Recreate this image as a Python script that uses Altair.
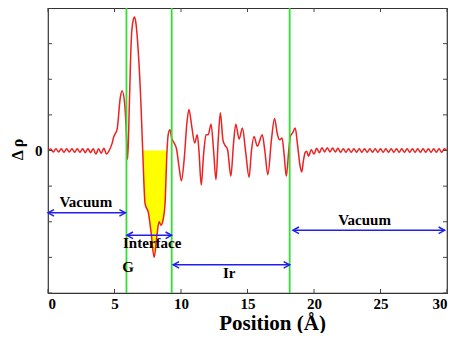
import altair as alt
import pandas as pd

# ---- curve (Position in Å, Δρ) ----
pos = [0.0, 0.2, 0.4, 0.6, 0.8, 1.0, 1.2, 1.4, 1.6, 1.8, 2.0, 2.2, 2.4, 2.6, 2.8, 3.0,
       3.2, 3.4, 3.6, 3.8, 4.0, 4.2, 4.4, 4.6,
       4.82, 4.95, 5.07, 5.2, 5.44, 5.57, 5.77, 5.89, 5.99, 6.11, 6.26, 6.4, 6.51, 6.62,
       6.8, 7.0, 7.12, 7.3, 7.55, 7.75, 7.98, 8.2, 8.35, 8.5, 8.65, 8.8, 8.95, 9.04,
       9.17, 9.3, 9.5, 9.66, 9.85, 10.03, 10.25, 10.45, 10.6, 10.8, 11.03, 11.22, 11.35,
       11.52, 11.7, 11.89, 12.05, 12.26, 12.45, 12.63, 12.8, 12.96, 13.15, 13.3, 13.5,
       13.75, 13.95, 14.12, 14.37, 14.62, 14.85, 15.12, 15.3, 15.49, 15.74, 16.11, 16.3,
       16.53, 16.8, 17.03, 17.25, 17.42, 17.6, 17.75, 17.92, 18.1, 18.22, 18.4, 18.59,
       18.75, 18.96, 19.08, 19.2, 19.33, 19.45, 19.58,
       19.8, 20.0, 20.2, 20.4, 20.6, 20.8, 21.0, 21.2, 21.4, 21.6, 21.8, 22.0, 22.2, 22.4,
       22.6, 22.8, 23.0, 23.2, 23.4, 23.6, 23.8, 24.0, 24.2, 24.4, 24.6, 24.8, 25.0, 25.2,
       25.4, 25.6, 25.8, 26.0, 26.2, 26.4, 26.6, 26.8, 27.0, 27.2, 27.4, 27.6, 27.8, 28.0,
       28.2, 28.4, 28.6, 28.8, 29.0, 29.2, 29.4, 29.6, 29.8, 30.0]
drho = [0.0, 0.04, -0.04, 0.05, -0.04, 0.05, -0.05, 0.05, -0.04, 0.05, -0.05, 0.05,
        -0.05, 0.05, -0.06, 0.05, -0.06, 0.05, -0.1, 0.05, -0.08, 0.06, -0.1, 0.0,
        0.2, 0.39, 0.48, 0.6, 1.5, 1.68, 1.3, 0.5, -0.25, 1.2, 3.1, 3.65, 3.75, 3.55,
        2.7, 1.2, 0.0, -1.5, -1.75, -2.3, -3.0, -2.35, -2.0, -2.1, -1.95, -1.5, 0.0, 0.45,
        0.58, 0.35, 0.2, 0.05, -0.45, -0.85, -0.2, 0.8, 1.15, 0.7, 0.21, 0.44, 0.0,
        -0.97, -0.1, 0.44, 0.45, 0.74, 0.0, -0.82, 0.3, 1.06, 0.3, 0.15, 0.03,
        -0.72, 0.2, 0.74, 0.32, 0.63, 0.0, -0.75, 0.0, 0.39, 0.12, 0.44, 0.0,
        -0.68, 0.3, 0.9, 0.45, 0.3, 0.35, -0.1, -0.72, 0.0, 0.39, 0.5, 0.63,
        0.2, -0.45, -0.6, -0.3, -0.06, -0.02, -0.16,
        0.02, -0.1, 0.06, -0.06, 0.08, -0.04, 0.08, -0.04, 0.07, -0.04, 0.06, -0.05,
        0.05, -0.05, 0.05, -0.05, 0.05, -0.05, 0.05, -0.05, 0.05, -0.05, 0.05, -0.05,
        0.05, -0.05, 0.05, -0.05, 0.05, -0.05, 0.05, -0.05, 0.05, -0.05, 0.05, -0.05,
        0.05, -0.05, 0.05, -0.05, 0.05, -0.05, 0.05, -0.05, 0.05, -0.05, 0.05, -0.05,
        0.05, -0.05, 0.05, 0.0]

# region boundaries (green lines)
boundaries = [5.9, 9.3, 18.17]

# double-headed arrows
arrow_x1 = [0.0, 5.94, 9.41, 18.42]
arrow_x2 = [5.82, 9.29, 18.17, 29.82]
arrow_y = [-1.75, -2.38, -3.21, -2.24]

# labels
label_text = ["Vacuum", "Interface", "G", "Ir", "Vacuum"]
label_x = [2.84, 7.83, 6.03, 13.63, 23.8]
label_y = [-1.45, -2.6, -3.27, -3.43, -1.95]

# ticks
x_ticks = [0, 5, 10, 15, 20, 25, 30]
y_ticks = [-4, -3, -2, -1, 0, 1, 2, 3, 4]

W, H = 399, 285
FONT = "Liberation Serif"

curve = pd.DataFrame({"pos": pos, "drho": drho})
arrows = pd.DataFrame({"x1": arrow_x1, "x2": arrow_x2, "y": arrow_y})
labels = pd.DataFrame({"t": label_text, "x": label_x, "y": label_y})
bnd = pd.DataFrame({"b": boundaries})
xt = pd.DataFrame({"v": x_ticks})
yt = pd.DataFrame({"v": y_ticks})

xscale = alt.Scale(domain=[0, 30], nice=False, zero=False)
yscale = alt.Scale(domain=[-4, 4], nice=False, zero=False)

xaxis = alt.Axis(values=x_ticks, grid=False, domain=False, ticks=False,
                 labelFont=FONT, labelFontWeight="bold", labelFontSize=15,
                 labelColor="black", labelPadding=3,
                 titleFont=FONT, titleFontWeight="bold", titleFontSize=21,
                 titleColor="black", titleX=224, titleY=36,
                 titleBaseline="alphabetic", titleAlign="center")
yaxis = alt.Axis(values=y_ticks, grid=False, domain=False, ticks=False,
                 labelExpr="datum.value == 0 ? '0' : ''",
                 labelFont=FONT, labelFontWeight="bold", labelFontSize=15,
                 labelColor="black", labelPadding=6,
                 titleFont=FONT, titleFontWeight="bold", titleFontSize=16,
                 titleColor="black", titleAngle=270, titleX=-26, titleY=141,
                 titleBaseline="alphabetic", titleAlign="center")
XT = "Position (Å)"
YT = "Δ ρ"


def X(f):
    return alt.X(f, scale=xscale, axis=xaxis, title=XT)


def Y(f):
    return alt.Y(f, scale=yscale, axis=yaxis, title=YT)


base = alt.Chart(curve)

area = base.mark_area(color="#ffff00", interpolate="monotone", opacity=1).transform_filter(
    (alt.datum.pos >= 7.12) & (alt.datum.pos <= 8.95)
).encode(x=X("pos:Q"), y=Y("drho:Q"), y2=alt.datum(0))

line = base.mark_line(color="#ee2020", strokeWidth=1.5, interpolate="monotone").encode(
    x=X("pos:Q"), y=Y("drho:Q"))

green = alt.Chart(bnd).mark_rule(color="#33dd33", strokeWidth=1.8).encode(x=X("b:Q"))

arrow_lines = alt.Chart(arrows).mark_rule(color="#2020ee", strokeWidth=1.5).encode(
    x=X("x1:Q"), x2="x2:Q", y=Y("y:Q"))
head_left = alt.Chart(arrows).mark_point(
    shape="M2,-1.1L0,0L2,1.1", filled=False, color="#2020ee", strokeWidth=1.5,
    size=36, opacity=1
).encode(x=X("x1:Q"), y=Y("y:Q"))
head_right = alt.Chart(arrows).mark_point(
    shape="M-2,-1.1L0,0L-2,1.1", filled=False, color="#2020ee", strokeWidth=1.5,
    size=36, opacity=1
).encode(x=X("x2:Q"), y=Y("y:Q"))

texts = alt.Chart(labels).mark_text(
    font=FONT, fontWeight="bold", fontSize=15, color="black", baseline="middle", align="center"
).encode(x=X("x:Q"), y=Y("y:Q"), text="t:N")

TC = "#444444"
tick_b = alt.Chart(xt).mark_rule(color=TC, strokeWidth=1).encode(
    x=X("v:Q"), y=alt.value(H), y2=alt.value(H - 4))
tick_t = alt.Chart(xt).mark_rule(color=TC, strokeWidth=1).encode(
    x=X("v:Q"), y=alt.value(0), y2=alt.value(4))
tick_l = alt.Chart(yt).mark_rule(color=TC, strokeWidth=1).encode(
    y=Y("v:Q"), x=alt.value(0), x2=alt.value(4))
tick_r = alt.Chart(yt).mark_rule(color=TC, strokeWidth=1).encode(
    y=Y("v:Q"), x=alt.value(W), x2=alt.value(W - 4))

chart = alt.layer(
    area, line, green, arrow_lines, head_left, head_right, texts,
    tick_b, tick_t, tick_l, tick_r
).properties(
    width=W, height=H,
    autosize=alt.AutoSizeParams(type="none"),
    padding={"left": 40, "top": 0, "right": 1, "bottom": 40},
).configure(
    background="white"
).configure_view(
    stroke="#333333", strokeWidth=1.2
)

chart.save("out.html", embed_options={"renderer": "svg", "actions": False})
